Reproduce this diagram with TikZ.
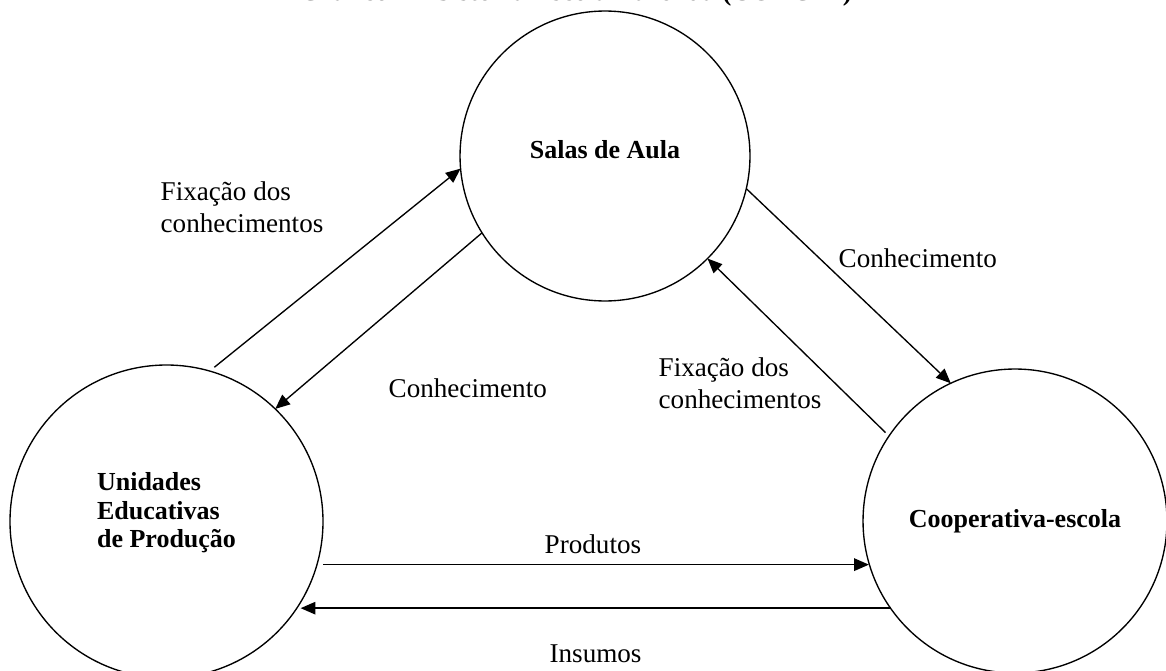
\documentclass[tikz,border=0pt]{standalone}
\usepackage{fontspec}
\setmainfont{Liberation Serif}
\usetikzlibrary{arrows.meta}

\begin{document}
\begin{tikzpicture}[x=0.4425pt,y=-0.4425pt,line join=round,line width=0.6pt]
	\tikzset{
		roda/.style={draw,circle,inner sep=0pt,outer sep=0pt,align=left,
			font=\fontsize{11.5}{12.5}\selectfont\bfseries},
		texto/.style={inner sep=0pt,align=left,font=\fontsize{12}{14}\selectfont},
		seta/.style={-{Triangle[length=6.5pt,width=5.5pt]}}
	}
	\useasboundingbox (0,0) rectangle (1166,670);
	\clip (0,0) rectangle (1166,670);
	
	%------------titulo (cortado)
	\node[font=\fontsize{12}{14}\selectfont\bfseries,anchor=base east] (titulo) at (860,1) {Gráfico 2 – Sistema Escola-Fazenda (COAGRI)};
	
	%------------circulos
	\node[roda,minimum size=128.3pt] (salas) at (605,156) {Salas de Aula\\[-6.3pt]};
	\node[roda,minimum size=138.5pt] (uep) at (166.5,521.5) {Unidades\\Educativas\\de Produção\\[-2.5pt]};
	\node[roda,minimum size=134.5pt] (coop) at (1015,521) {Cooperativa-escola};
	
	%------------setas
	\draw[seta,shorten <=2.7pt] (uep.74) -- (salas.185);
	\draw[seta] (salas.212) -- (uep.46);
	\draw[seta] (salas.347) -- (coop.115);
	\draw[seta,shorten <=2.2pt] (coop.146) -- (salas.315);
	\draw[seta,shorten <=2.7pt] (uep.344) -- node[texto,above=4.4pt] (prod) {Produtos} (coop.196 |- uep.344);
	\draw[seta] (coop.215) -- node[texto,below=16pt] (ins) {Insumos} (uep.329 |- coop.215);
	
	%------------rotulos
	\node[texto,anchor=base west] (fix1) at (160,232) {Fixação dos\\conhecimentos};
	\node[texto,anchor=base west] (con1) at (388,397) {Conhecimento};
	\node[texto,anchor=base west] (con2) at (838,267) {Conhecimento};
	\node[texto,anchor=base west] (fix2) at (658,408) {Fixação dos\\conhecimentos};
\end{tikzpicture}
\end{document}
